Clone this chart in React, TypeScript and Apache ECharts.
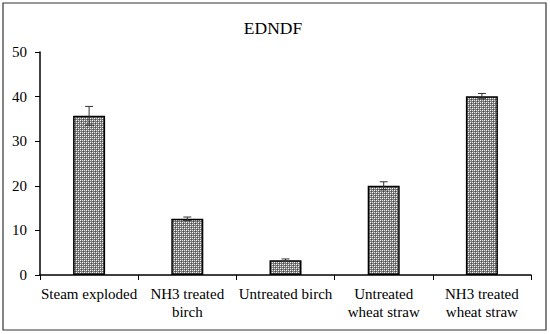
import React, { useEffect, useRef } from "react";
import * as echarts from "echarts";

const categories = [
  "Steam exploded",
  "NH3 treated\nbirch",
  "Untreated birch",
  "Untreated\nwheat straw",
  "NH3 treated\nwheat straw",
];
const values = [35.7, 12.6, 3.3, 20.0, 40.1];
const errors = [2.1, 0.4, 0.3, 0.9, 0.6];
const yTicks = [0, 10, 20, 30, 40, 50];

function makePattern(): HTMLCanvasElement {
  const c = document.createElement("canvas");
  c.width = 4;
  c.height = 4;
  const ctx = c.getContext("2d")!;
  ctx.fillStyle = "#7c7c7c";
  ctx.fillRect(0, 0, 4, 4);
  ctx.fillStyle = "#ffffff";
  ctx.fillRect(0, 0, 1, 1);
  ctx.fillRect(2, 2, 1, 1);
  ctx.fillStyle = "#dcdcdc";
  ctx.fillRect(2, 0, 1, 1);
  ctx.fillRect(0, 2, 1, 1);
  ctx.fillStyle = "#4a4a4a";
  ctx.fillRect(1, 1, 1, 1);
  ctx.fillRect(3, 3, 1, 1);
  return c;
}

export default function App() {
  const ref = useRef<HTMLDivElement>(null);
  useEffect(() => {
    document.body.style.margin = "0";
    const chart = echarts.init(ref.current!, null, { renderer: "svg" });
    const font = "'Liberation Serif', 'Times New Roman', serif";
    chart.setOption({
      animation: false,
      backgroundColor: "#ffffff",
      textStyle: { fontFamily: font },
      graphic: [
        {
          type: "rect",
          shape: { x: 3, y: 3, width: 543, height: 327 },
          style: { fill: "none", stroke: "#333", lineWidth: 1.2 },
          silent: true,
        },
        {
          type: "text",
          x: 273,
          y: 28,
          style: {
            text: "EDNDF",
            fontFamily: font,
            fontSize: 17.5,
            fill: "#000",
            textAlign: "center",
            textVerticalAlign: "middle",
          },
        },
      ],
      grid: { left: 40, right: 19, top: 52, bottom: 59 },
      xAxis: {
        type: "category",
        data: categories,
        axisLine: { lineStyle: { color: "#000", width: 1.5 } },
        axisTick: { show: true, length: 5, alignWithLabel: false, lineStyle: { color: "#000" } },
        axisLabel: {
          color: "#000",
          fontFamily: font,
          fontSize: 15,
          lineHeight: 18,
          margin: 10,
          interval: 0,
        },
      },
      yAxis: {
        type: "value",
        min: yTicks[0],
        max: yTicks[yTicks.length - 1],
        interval: 10,
        axisLine: { show: true, lineStyle: { color: "#000", width: 1.5 } },
        axisTick: { show: true, length: 5, lineStyle: { color: "#000" } },
        splitLine: { show: false },
        axisLabel: { color: "#000", fontFamily: font, fontSize: 15, margin: 13 },
      },
      series: [
        {
          type: "bar",
          data: values,
          barWidth: 32,
          itemStyle: {
            color: { image: makePattern(), repeat: "repeat" },
            borderColor: "#000",
            borderWidth: 1.5,
          },
        },
        {
          type: "custom",
          data: values.map((v, i) => [i, v, errors[i]]),
          renderItem: (params: any, api: any) => {
            const i = api.value(0);
            const v = api.value(1);
            const e = api.value(2);
            const top = api.coord([i, v + e]);
            const bot = api.coord([i, v - e]);
            const style = { stroke: "#333", lineWidth: 1 };
            return {
              type: "group",
              children: [
                { type: "line", shape: { x1: top[0], y1: top[1], x2: bot[0], y2: bot[1] }, style },
                { type: "line", shape: { x1: top[0] - 4, y1: top[1], x2: top[0] + 4, y2: top[1] }, style },
                { type: "line", shape: { x1: bot[0] - 4, y1: bot[1], x2: bot[0] + 4, y2: bot[1] }, style },
              ],
            };
          },
          z: 10,
        },
      ],
    });
    return () => chart.dispose();
  }, []);
  return <div ref={ref} style={{ width: 550, height: 334 }} />;
}
